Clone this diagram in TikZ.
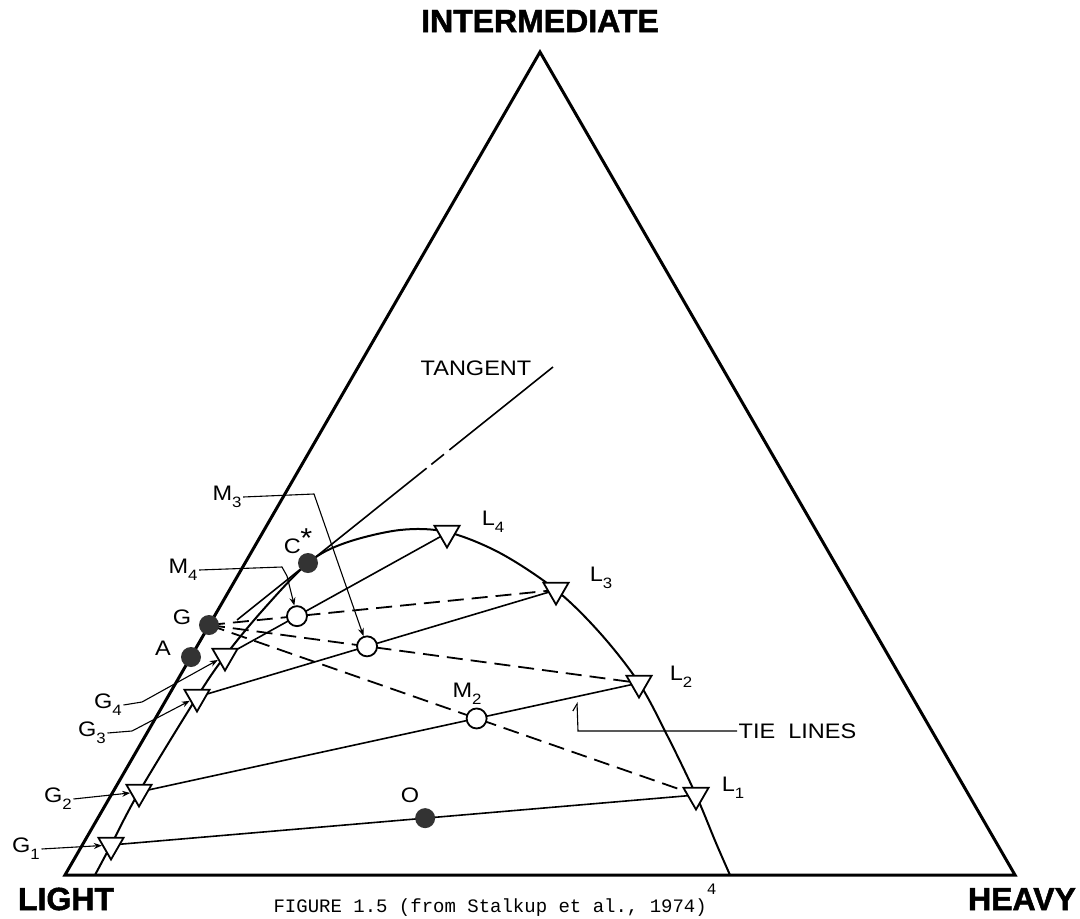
\documentclass[tikz,border=0pt]{standalone}
\usepackage{fontspec}
\setmainfont{Liberation Serif}
\newfontfamily\labfont[FakeStretch=1.12]{Liberation Sans}
\newfontfamily\titfont[BoldFeatures={FakeBold=1.5}]{Liberation Sans}
\newfontfamily\capfont{Liberation Mono}
\usetikzlibrary{shapes.geometric,arrows.meta,calc}
\newcommand{\sbs}[1]{\raisebox{-0.32em}{\fontsize{15}{15}\selectfont #1}}
\begin{document}
\begin{tikzpicture}[x=1pt,y=-1pt,
  frame/.style={line width=3pt,line join=miter},
  curvestyle/.style={line width=2pt},
  tie/.style={line width=1.6pt},
  mix/.style={line width=1.8pt,dash pattern=on 16pt off 8pt},
  tri/.style={draw,fill=white,regular polygon,regular polygon sides=3,shape border rotate=180,minimum size=29pt,inner sep=0pt,line width=1.8pt},
  opendot/.style={draw,fill=white,circle,minimum size=20pt,inner sep=0pt,line width=1.8pt},
  fulldot/.style={fill=black!80,circle,minimum size=20pt,inner sep=0pt},
  lab/.style={font=\labfont\fontsize{21}{21}\selectfont,inner sep=1.5pt},
  title/.style={font=\titfont\bfseries\fontsize{32}{32}\selectfont,inner sep=0pt},
  lead/.style={line width=1.1pt,-{Stealth[length=8pt,width=6pt]}},
  leadplain/.style={line width=1.1pt}]
\fill[white] (0,0) rectangle (1080,919);
\useasboundingbox (0,0) rectangle (1080,919);
% frame
\coordinate (Lv) at (65,875);
\coordinate (Hv) at (1015,875);
\coordinate (Iv) at (540,52);
\draw[frame] (Lv) -- (Iv) -- (Hv) -- cycle;
% titles
\node[title] (tI) at (540,21) {INTERMEDIATE};
\node[title] (tL) at (66,899) {LIGHT};
\node[title] (tH) at (1022,899) {HEAVY};
\node[font=\capfont\fontsize{19}{19}\selectfont,anchor=base,inner sep=0pt] (cap) at (495,912) {FIGURE 1.5 (from Stalkup et al., 1974)\raisebox{0.9em}{\fontsize{16}{16}\selectfont 4}};
% points
\coordinate (g1) at (111,845);
\coordinate (g2) at (139,792);
\coordinate (g3) at (197,697);
\coordinate (g4) at (225,656);
\coordinate (l4) at (447,533);
\coordinate (l3) at (556,590);
\coordinate (l2) at (639,683);
\coordinate (l1) at (696,795);
\coordinate (G) at (209,625);
\coordinate (A) at (191,657);
\coordinate (cs) at (308,563);
\coordinate (m4) at (intersection of G--l3 and g4--l4);
\coordinate (m3) at (intersection of G--l2 and g3--l3);
\coordinate (m2) at (intersection of G--l1 and g2--l2);
\coordinate (o) at ($(g1)!0.537!(l1)$);
% binodal curve
\draw[curvestyle] plot[smooth,tension=0.55] coordinates {(95,875) (111,845) (139,792) (197,697) (225,656) (262,611) (308,563) (345,543) (400,530) (447,532) (500,553) (556,590) (600,633) (639,683) (668,737) (696,795) (716,843) (730,875)};
% tangent
\coordinate (T0) at (237,620);
\coordinate (T1) at (553,367);
\draw[tie] (T0) -- ($(T0)!0.60!(T1)$);
\draw[tie] ($(T0)!0.615!(T1)$) -- ($(T0)!0.655!(T1)$);
\draw[tie] ($(T0)!0.672!(T1)$) -- (T1);
% tie lines
\draw[tie] (g1) -- (l1);
\draw[tie] (g2) -- (l2);
\draw[tie] (g3) -- (l3);
\draw[tie] (g4) -- (l4);
% mixing lines
\draw[mix] (G) -- (l3);
\draw[mix] (G) -- (l2);
\draw[mix] (G) -- (l1);
% markers
\node[tri] (G1m) at (g1) {};
\node[tri] (G2m) at (g2) {};
\node[tri] (G3m) at (g3) {};
\node[tri] (G4m) at (g4) {};
\node[tri] (L1m) at (l1) {};
\node[tri] (L2m) at (l2) {};
\node[tri] (L3m) at (l3) {};
\node[tri] (L4m) at (l4) {};
\node[opendot] (M2c) at (m2) {};
\node[opendot] (M3c) at (m3) {};
\node[opendot] (M4c) at (m4) {};
\node[fulldot] (Gd) at (G) {};
\node[fulldot] (Ad) at (A) {};
\node[fulldot] (Cd) at (cs) {};
\node[fulldot] (Od) at (o) {};
% labels
\node[lab] (tang) at (476,368) {TANGENT};
\node[lab] (L4l) at (493,522) {L\sbs{4}};
\node[lab] (L3l) at (601,578) {L\sbs{3}};
\node[lab] (L2l) at (681,677) {L\sbs{2}};
\node[lab] (L1l) at (733,788) {L\sbs{1}};
\node[lab] (M2l) at (467,694) {M\sbs{2}};
\node[lab] (M3l) at (227,497) {M\sbs{3}};
\node[lab] (M4l) at (183,570) {M\sbs{4}};
\node[lab] (Ol) at (410,795) {O};
\node[lab] (Csl) at (298,541) {C\kern-0.5pt\raisebox{0.28em}{\scalebox{1.3}{*}}};
\node[lab] (Gl) at (182,617) {G};
\node[lab] (Al) at (163,648) {A};
\node[lab] (G4l) at (108,705) {G\sbs{4}};
\node[lab] (G3l) at (92,733) {G\sbs{3}};
\node[lab] (G2l) at (58,799) {G\sbs{2}};
\node[lab] (G1l) at (26,849) {G\sbs{1}};
\node[lab,anchor=west] (TIEl) at (737,731) {TIE\ \ LINES};
% leaders
\coordinate (m3k) at (314,494);
\draw[lead] (M3l.east) -- (m3k) -- (M3c);
\coordinate (m4k1) at (282,567);
\coordinate (m4k2) at (287,576);
\draw[lead] (M4l.east) -- (m4k1) -- (m4k2) -- (M4c);
\coordinate (g4k) at (142,702);
\draw[lead] (G4l.east) -- (g4k) -- (G4m);
\coordinate (g3k) at (132,731);
\draw[lead] (G3l.east) -- (g3k) -- (G3m);
\draw[lead] (G2l.east) -- (G2m);
\draw[lead] (G1l.east) -- (G1m);
\coordinate (tk1) at (578,731);
\coordinate (tk2) at (577,702);
\draw[leadplain,-{Straight Barb[left,length=7pt,width=9pt]}] (TIEl.west) -- (tk1) -- (tk2);
\end{tikzpicture}
\end{document}
